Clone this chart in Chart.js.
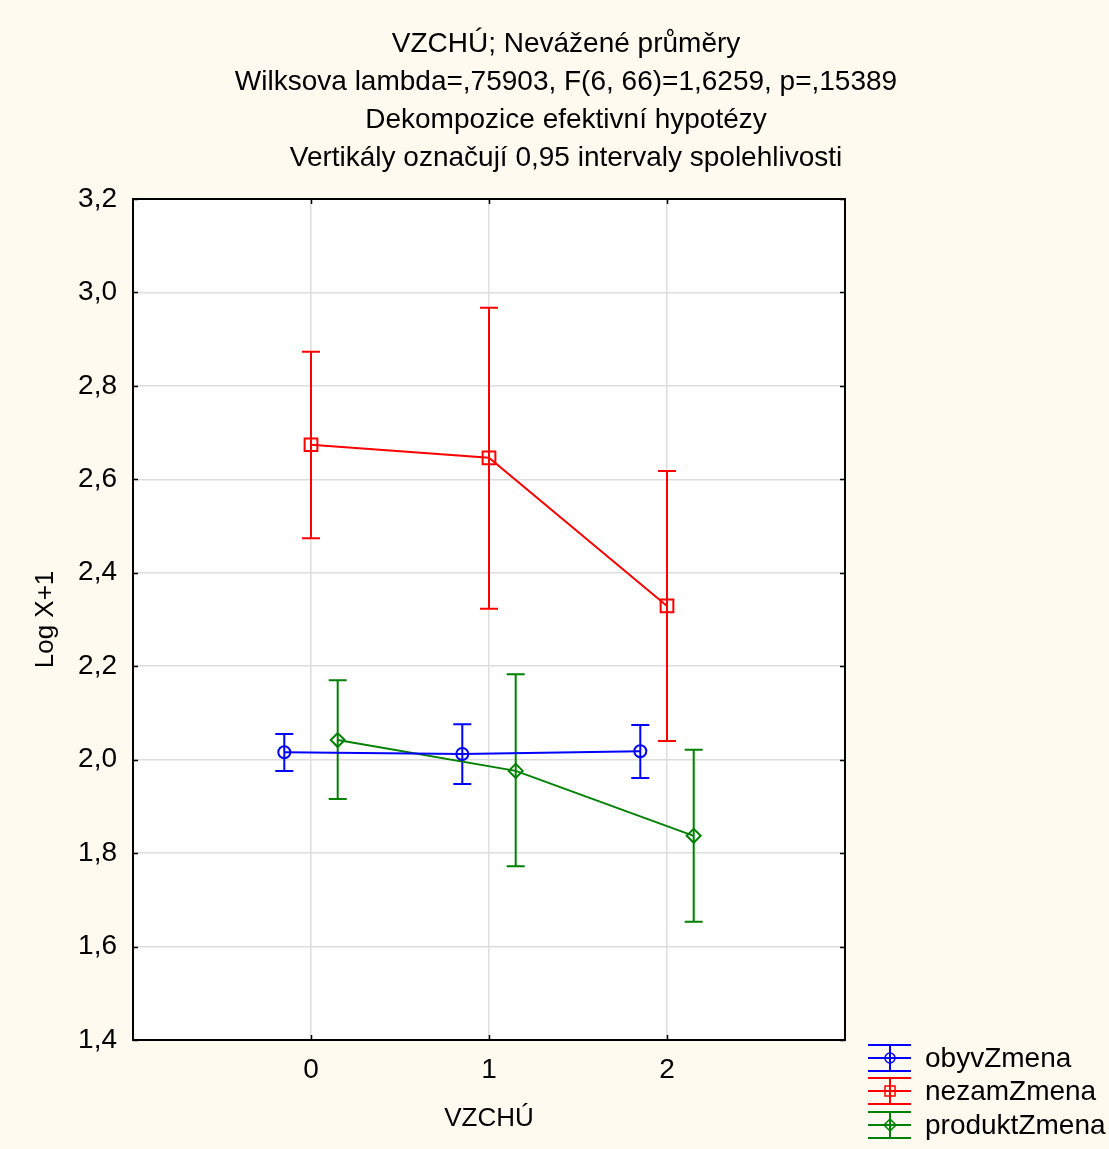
<!DOCTYPE html>
<html>
<head>
<meta charset="utf-8">
<script src="https://cdn.jsdelivr.net/npm/chart.js@4/dist/chart.umd.min.js"></script>
<style>
  html, body { margin: 0; padding: 0; background: #FFFAF0; }
  canvas { display: block; }
</style>
</head>
<body>
<canvas id="c" width="1109" height="1149"></canvas>
<script>
// ---- data ----
const categories = [0, 1, 2];
const seriesNames = ['obyvZmena', 'nezamZmena', 'produktZmena'];
const obyvMean = [2.016, 2.012, 2.018];
const obyvLow  = [1.976, 1.948, 1.961];
const obyvHigh = [2.055, 2.076, 2.074];
const nezamMean = [2.674, 2.646, 2.329];
const nezamLow  = [2.474, 2.323, 2.040];
const nezamHigh = [2.873, 2.967, 2.618];
const produktMean = [2.042, 1.976, 1.837];
const produktLow  = [1.916, 1.772, 1.653];
const produktHigh = [2.170, 2.183, 2.021];
const seriesOffsets = [-0.15, 0, 0.15];
const yTicks = [1.4, 1.6, 1.8, 2.0, 2.2, 2.4, 2.6, 2.8, 3.0, 3.2];
const titleLines = [
  'VZCHÚ; Nevážené průměry',
  'Wilksova lambda=,75903, F(6, 66)=1,6259, p=,15389',
  'Dekompozice efektivní hypotézy',
  'Vertikály označují 0,95 intervaly spolehlivosti'
];
const xAxisTitle = 'VZCHÚ';
const yAxisTitle = 'Log X+1';

const colors = ['#0000FF', '#FF0000', '#008000'];
const styles = ['circle', 'rect', 'rectRot'];
const radii = [6, 9, 7];
const means = [obyvMean, nezamMean, produktMean];
const lows = [obyvLow, nezamLow, produktLow];
const highs = [obyvHigh, nezamHigh, produktHigh];

const FONT = "'Liberation Sans', Arial, sans-serif";

const datasets = seriesNames.map((name, i) => ({
  label: name,
  data: categories.map((c, j) => ({ x: c + seriesOffsets[i], y: means[i][j], lo: lows[i][j], hi: highs[i][j] })),
  showLine: true,
  borderColor: colors[i],
  borderWidth: 2,
  backgroundColor: 'rgba(0,0,0,0)',
  pointStyle: styles[i],
  pointRadius: radii[i],
  pointBorderWidth: 2,
  pointBorderColor: colors[i],
  pointBackgroundColor: 'rgba(0,0,0,0)',
  tension: 0
}));

const bgPlugin = {
  id: 'bg',
  beforeDraw(chart) {
    const { ctx, chartArea: a } = chart;
    ctx.save();
    ctx.fillStyle = '#FFFAF0';
    ctx.fillRect(0, 0, chart.width, chart.height);
    ctx.fillStyle = '#FFFFFF';
    ctx.fillRect(a.left, a.top, a.right - a.left, a.bottom - a.top);
    // title
    ctx.fillStyle = '#000000';
    ctx.font = '28px ' + FONT;
    ctx.textAlign = 'center';
    ctx.textBaseline = 'middle';
    titleLines.forEach((t, i) => ctx.fillText(t, 566, 44 + 38 * i));
    ctx.restore();
  }
};

const errorBarPlugin = {
  id: 'errbars',
  beforeDatasetsDraw(chart) {
    const { ctx } = chart;
    const xs = chart.scales.x, ys = chart.scales.y;
    ctx.save();
    chart.data.datasets.forEach((ds) => {
      ctx.strokeStyle = ds.borderColor;
      ctx.lineWidth = 2;
      ds.data.forEach(p => {
        const x = xs.getPixelForValue(p.x);
        const yl = ys.getPixelForValue(p.lo);
        const yh = ys.getPixelForValue(p.hi);
        ctx.beginPath();
        ctx.moveTo(x, yl); ctx.lineTo(x, yh);
        ctx.moveTo(x - 9, yl); ctx.lineTo(x + 9, yl);
        ctx.moveTo(x - 9, yh); ctx.lineTo(x + 9, yh);
        ctx.stroke();
      });
    });
    ctx.restore();
  }
};

const framePlugin = {
  id: 'frame',
  afterDraw(chart) {
    const { ctx, chartArea: a } = chart;
    const xs = chart.scales.x, ys = chart.scales.y;
    ctx.save();
    ctx.strokeStyle = '#000000';
    ctx.lineWidth = 2;
    ctx.strokeRect(a.left, a.top, a.right - a.left, a.bottom - a.top);
    ctx.lineWidth = 1.5;
    ctx.beginPath();
    ys.ticks.forEach(t => {
      const y = Math.round(ys.getPixelForValue(t.value)) + 0.5;
      ctx.moveTo(a.left, y); ctx.lineTo(a.left + 5, y);
      ctx.moveTo(a.right, y); ctx.lineTo(a.right - 5, y);
    });
    xs.ticks.forEach(t => {
      const x = Math.round(xs.getPixelForValue(t.value)) + 0.5;
      ctx.moveTo(x, a.bottom); ctx.lineTo(x, a.bottom - 5);
      ctx.moveTo(x, a.top); ctx.lineTo(x, a.top + 5);
    });
    ctx.stroke();

    // legend
    const lx0 = 868, lx1 = 911, lxc = 890, textX = 925;
    const rowY = [1058, 1091, 1125];
    ctx.font = '28px ' + FONT;
    ctx.textBaseline = 'middle';
    ctx.textAlign = 'left';
    chart.data.datasets.forEach((ds, i) => {
      const cy = rowY[i];
      ctx.strokeStyle = ds.borderColor;
      ctx.lineWidth = 2;
      ctx.beginPath();
      ctx.moveTo(lx0, cy - 13); ctx.lineTo(lx1, cy - 13);
      ctx.moveTo(lx0, cy); ctx.lineTo(lx1, cy);
      ctx.moveTo(lx0, cy + 13); ctx.lineTo(lx1, cy + 13);
      ctx.moveTo(lxc, cy - 13); ctx.lineTo(lxc, cy + 13);
      ctx.stroke();
      ctx.lineWidth = 1.5;
      ctx.beginPath();
      if (ds.pointStyle === 'circle') {
        ctx.arc(lxc, cy, 5, 0, Math.PI * 2);
      } else if (ds.pointStyle === 'rect') {
        ctx.rect(lxc - 5, cy - 5, 10, 10);
      } else {
        ctx.moveTo(lxc, cy - 6); ctx.lineTo(lxc + 6, cy); ctx.lineTo(lxc, cy + 6); ctx.lineTo(lxc - 6, cy); ctx.closePath();
      }
      ctx.stroke();
      ctx.fillStyle = '#000000';
      ctx.fillText(ds.label, textX, cy + 1);
    });
    ctx.restore();
  }
};

new Chart(document.getElementById('c'), {
  type: 'scatter',
  data: { datasets },
  options: {
    responsive: false,
    animation: false,
    devicePixelRatio: 1,
    layout: { padding: { left: 24, right: 264, top: 199, bottom: 0 } },
    plugins: {
      legend: { display: false },
      tooltip: { enabled: false },
      title: { display: false }
    },
    scales: {
      x: {
        type: 'linear',
        min: -1, max: 3,
        afterBuildTicks(scale) { scale.ticks = categories.map(v => ({ value: v })); },
        afterFit(scale) { scale.height = 109; },
        grid: { color: '#DDDDDD', lineWidth: 1.5, drawTicks: false },
        border: { display: false },
        ticks: {
          color: '#000000', padding: 13,
          font: { family: FONT, size: 28 },
          callback: v => String(v)
        },
        title: {
          display: true, text: xAxisTitle, color: '#000000',
          font: { family: FONT, size: 26 },
          padding: { top: 4, bottom: 15 }
        }
      },
      y: {
        type: 'linear',
        min: 1.4, max: 3.2,
        afterBuildTicks(scale) { scale.ticks = yTicks.map(v => ({ value: v })); },
        afterFit(scale) { scale.width = 109; },
        grid: { color: '#DDDDDD', lineWidth: 1.5, drawTicks: false },
        border: { display: false },
        ticks: {
          color: '#000000', padding: 16,
          font: { family: FONT, size: 28 },
          callback: v => v.toFixed(1).replace('.', ',')
        },
        title: {
          display: true, text: yAxisTitle, color: '#000000',
          font: { family: FONT, size: 26 },
          padding: { top: 6, bottom: 4 }
        }
      }
    }
  },
  plugins: [bgPlugin, errorBarPlugin, framePlugin]
});
</script>
</body>
</html>
